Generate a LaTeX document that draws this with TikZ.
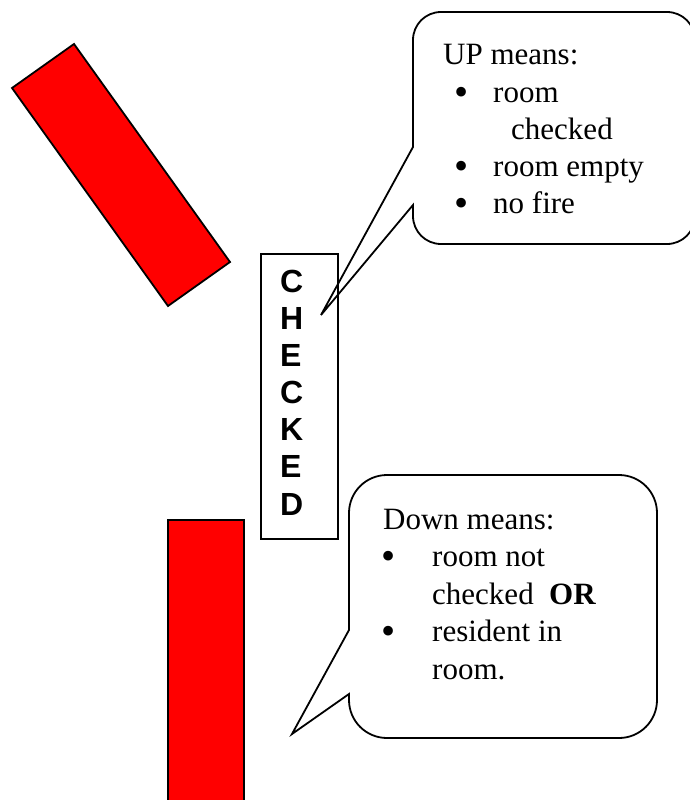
\documentclass[tikz,border=0pt]{standalone}
\usepackage{fontspec}
\setmainfont{Liberation Serif}
\newfontfamily\chkfont{Liberation Sans}
\newcommand{\bigbul}{\raisebox{-3pt}{\scalebox{1.3}{\textbullet}}}
\begin{document}
\begin{tikzpicture}[x=1pt,y=-1pt, line join=miter,
  outline/.style={draw=black, line width=1.8pt},
  redbar/.style={outline, fill=red},
  calltext/.style={anchor=base west, inner sep=0pt, font=\fontsize{31}{37}\selectfont},
  bul/.style={anchor=base, inner sep=0pt, font=\fontsize{31}{37}\selectfont},
  letter/.style={anchor=base west, inner sep=0pt, font=\chkfont\bfseries\fontsize{32}{37}\selectfont}]
\useasboundingbox (0,0) rectangle (689,800);

% red bars
\draw[redbar] (12,88) -- (74,44) -- (230,262) -- (168,306) -- cycle;
\node[redbar, minimum width=76pt, minimum height=300pt, anchor=north west, inner sep=0pt] (lowbar) at (167,519) {};

% CHECKED card
\node[outline, fill=white, minimum width=77pt, minimum height=285pt, anchor=north west, inner sep=0pt] (card) at (260,253) {};
\foreach \ch [count=\i from 0] in {C,H,E,C,K,E,D} {
  \node[letter] (l\i) at (280,{292+37.17*\i}) {\ch};
}

% pointer tips
\coordinate (tip1) at (321,315);
\coordinate (tip2) at (292,734);

% UP callout
\draw[outline] (413,147) -- (413,40) .. controls (413,24.5) and (425.5,12) .. (441,12)
  -- (667,12) .. controls (682.5,12) and (695,24.5) .. (695,40)
  -- (695,216) .. controls (695,231.5) and (682.5,244) .. (667,244)
  -- (441,244) .. controls (425.5,244) and (413,231.5) .. (413,216)
  -- (413,205) -- (tip1) -- cycle;
\node[calltext] (up0) at (443,65) {UP means:};
\node[bul] (ub1) at (462,102) {\bigbul};
\node[calltext] (up1) at (493,102) {room};
\node[calltext] (up1b) at (511,139) {checked};
\node[bul] (ub2) at (462,176) {\bigbul};
\node[calltext] (up2) at (493,176) {room empty};
\node[bul] (ub3) at (462,213) {\bigbul};
\node[calltext] (up3) at (493,213) {no fire};

% Down callout
\draw[outline] (349,630) -- (349,513) .. controls (349,492) and (366,475) .. (387,475)
  -- (619,475) .. controls (640,475) and (657,492) .. (657,513)
  -- (657,700) .. controls (657,721) and (640,738) .. (619,738)
  -- (387,738) .. controls (366,738) and (349,721) .. (349,700)
  -- (349,694) -- (tip2) -- cycle;
\node[calltext] (dn0) at (383,529) {Down means:};
\node[bul] (db1) at (389,566) {\bigbul};
\node[calltext] (dn1) at (432,566) {room not};
\node[calltext] (dn1b) at (432,604) {checked\ \ \textbf{OR}};
\node[bul] (db2) at (389,641) {\bigbul};
\node[calltext] (dn2) at (432,641) {resident in};
\node[calltext] (dn2b) at (432,679) {room.};
\end{tikzpicture}
\end{document}
